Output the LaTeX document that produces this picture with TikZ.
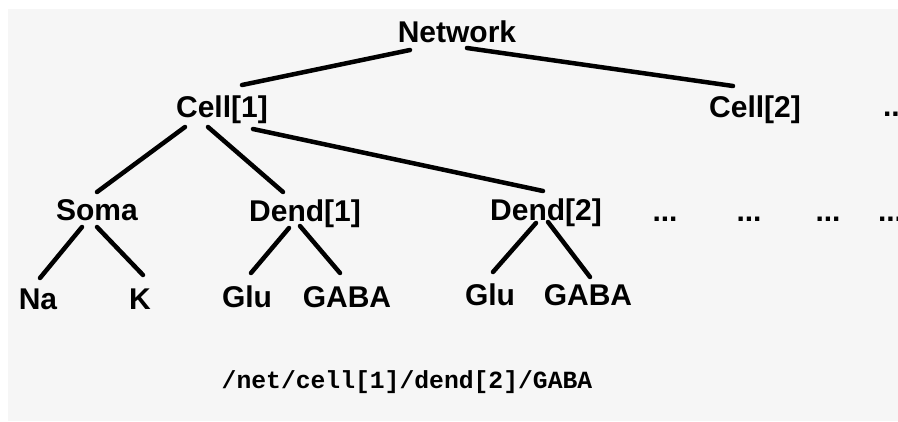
\documentclass[tikz,border=0pt]{standalone}
\usepackage{fontspec}
\setmainfont{Liberation Sans}
\setmonofont{Liberation Mono}
\definecolor{bggray}{HTML}{F6F6F6}
\begin{document}
\begin{tikzpicture}[x=1pt,y=-1pt,
  lbl/.style={anchor=base,inner sep=0pt,font=\fontsize{30}{36}\selectfont\bfseries},
  pathlbl/.style={anchor=base,inner sep=0pt,font=\fontsize{24.7}{30}\selectfont\ttfamily\bfseries},
  edge/.style={line width=4.5pt,line cap=round,black}]
\useasboundingbox (0,0) rectangle (898,421);
\fill[white] (0,0) rectangle (898,421);
\fill[bggray] (8,9) rectangle (898,421);
\clip (0,0) rectangle (898,421);
% nodes
\node[lbl] (net) at (457,42) {Network};
\node[lbl] (cell1) at (222,117) {Cell[1]};
\node[lbl] (cell2) at (755,117) {Cell[2]};
\node[lbl] (dotsA) at (895.5,116) {...};
\node[lbl] (soma) at (97,220) {Soma};
\node[lbl] (dend1) at (305,221) {Dend[1]};
\node[lbl] (dend2) at (546,220) {Dend[2]};
\node[lbl] (dotsB) at (665,221) {...};
\node[lbl] (dotsC) at (749,221) {...};
\node[lbl] (dotsD) at (828,221) {...};
\node[lbl] (dotsE) at (890.5,221) {...};
\node[lbl] (na) at (38,309) {Na};
\node[lbl] (k) at (140,309) {K};
\node[lbl] (glu1) at (247,307) {Glu};
\node[lbl] (gaba1) at (347,307) {GABA};
\node[lbl] (glu2) at (490,305) {Glu};
\node[lbl] (gaba2) at (588,305) {GABA};
\node[pathlbl] (path) at (407,388) {/net/cell[1]/dend[2]/GABA};
% edges
\draw[edge] ([shift={(-47,8)}]net.base) -- ([shift={(20,-32)}]cell1.base);
\draw[edge] ([shift={(10,6)}]net.base) -- ([shift={(-22,-31)}]cell2.base);
\draw[edge] ([shift={(-37,10)}]cell1.base) -- ([shift={(0,-28)}]soma.base);
\draw[edge] ([shift={(-14,10)}]cell1.base) -- ([shift={(-22,-29)}]dend1.base);
\draw[edge] ([shift={(31,12)}]cell1.base) -- ([shift={(-3,-29)}]dend2.base);
\draw[edge] ([shift={(-15,7)}]soma.base) -- ([shift={(2,-31)}]na.base);
\draw[edge] ([shift={(0,7)}]soma.base) -- ([shift={(3,-34)}]k.base);
\draw[edge] ([shift={(-16,7)}]dend1.base) -- ([shift={(4,-34)}]glu1.base);
\draw[edge] ([shift={(-5,5)}]dend1.base) -- ([shift={(-7,-34)}]gaba1.base);
\draw[edge] ([shift={(-10,3)}]dend2.base) -- ([shift={(3,-33)}]glu2.base);
\draw[edge] ([shift={(2,2)}]dend2.base) -- ([shift={(2,-28)}]gaba2.base);
\end{tikzpicture}
\end{document}
